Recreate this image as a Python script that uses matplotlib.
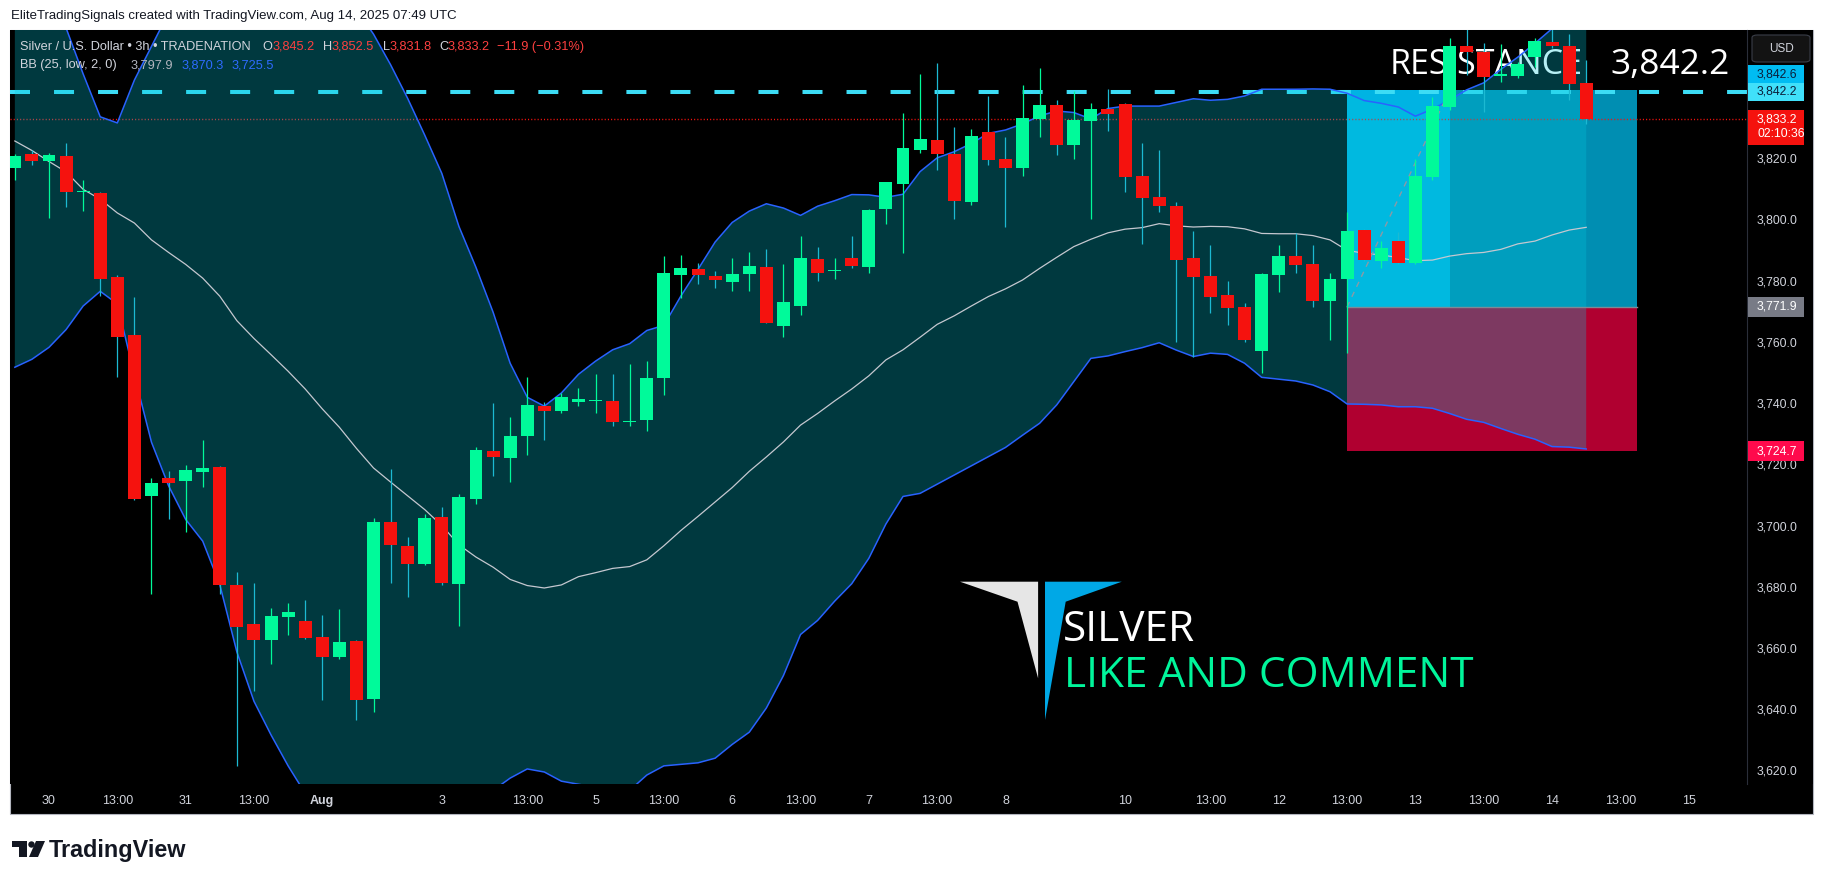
import matplotlib
matplotlib.use("Agg")
import matplotlib.pyplot as plt
from matplotlib.patches import Rectangle, Polygon, FancyBboxPatch, Circle
import numpy as np

plt.rcParams['lines.scale_dashes'] = False
plt.rcParams['font.family'] = ['Liberation Sans', 'DejaVu Sans']

W, H = 1826, 881

# ---------------- data ----------------
first_bar = -2
opens = [3817.4, 3821.7, 3819.4, 3821.2, 3809.3, 3809.0, 3781.7, 3762.8, 3710.2, 3716.0,
         3714.9, 3718.1, 3719.7, 3681.0, 3668.4, 3663.0, 3670.7, 3669.3, 3664.1, 3657.4,
         3662.8, 3644.0, 3701.7, 3693.8, 3687.8, 3703.3, 3681.5, 3709.2, 3724.8, 3722.6,
         3729.8, 3739.5, 3737.9, 3740.7, 3741.2, 3741.2, 3734.3, 3735.0, 3748.7, 3782.4,
         3784.3, 3782.0, 3780.2, 3782.8, 3785.0, 3765.8, 3772.2, 3787.5, 3783.6, 3787.9,
         3785.0, 3803.9, 3812.2, 3823.3, 3826.4, 3821.9, 3806.3, 3829.0, 3820.2, 3817.4,
         3833.3, 3837.9, 3824.9, 3832.7, 3836.4, 3838.2, 3814.7, 3807.8, 3804.9, 3787.9,
         3782.0, 3775.8, 3771.9, 3757.6, 3782.4, 3788.5, 3785.9, 3773.9, 3781.0, 3797.0,
         3787.0, 3793.4, 3786.4, 3814.4, 3837.3, 3857.0, 3855.3, 3847.4, 3847.4, 3853.6,
         3858.3, 3857.1, 3845.2]
highs = [3821.9, 3823.2, 3822.2, 3825.4, 3813.4, 3809.4, 3782.2, 3775.2, 3716.0, 3718.4,
         3720.3, 3728.3, 3720.0, 3685.3, 3681.7, 3673.5, 3675.2, 3676.1, 3671.2, 3673.3,
         3663.2, 3702.9, 3719.0, 3696.9, 3704.4, 3706.4, 3710.9, 3726.2, 3740.6, 3735.9,
         3749.0, 3740.8, 3743.8, 3745.4, 3750.0, 3750.0, 3753.2, 3754.3, 3788.6, 3788.8,
         3786.2, 3783.5, 3787.9, 3789.9, 3790.8, 3785.9, 3795.1, 3791.5, 3787.9, 3795.1,
         3804.0, 3812.8, 3835.2, 3848.0, 3851.5, 3830.6, 3829.9, 3840.8, 3827.3, 3844.4,
         3849.9, 3839.5, 3842.3, 3838.5, 3843.1, 3838.6, 3825.3, 3823.2, 3806.3, 3796.7,
         3792.1, 3780.4, 3773.1, 3783.1, 3792.1, 3796.0, 3792.1, 3783.0, 3802.8, 3797.5,
         3793.4, 3796.5, 3820.1, 3840.5, 3859.8, 3864.0, 3858.0, 3857.7, 3852.0, 3859.8,
         3864.0, 3861.0, 3852.5]
lows = [3813.5, 3818.1, 3801.0, 3804.4, 3803.2, 3775.4, 3749.0, 3709.0, 3678.3, 3702.7,
        3698.5, 3713.2, 3678.3, 3622.0, 3646.6, 3655.3, 3664.8, 3663.5, 3643.6, 3657.0,
        3637.1, 3639.5, 3681.8, 3677.3, 3687.5, 3681.0, 3667.8, 3707.5, 3716.8, 3714.6,
        3723.5, 3728.4, 3737.1, 3739.5, 3737.2, 3733.0, 3733.0, 3731.5, 3743.2, 3774.8,
        3779.5, 3778.2, 3777.2, 3777.2, 3766.5, 3762.2, 3769.2, 3780.4, 3781.1, 3784.6,
        3783.1, 3799.1, 3789.6, 3822.3, 3816.7, 3800.7, 3805.3, 3818.4, 3798.1, 3814.7,
        3827.5, 3821.6, 3820.3, 3800.7, 3829.5, 3809.6, 3792.6, 3803.0, 3760.6, 3755.7,
        3770.0, 3766.0, 3760.4, 3750.4, 3776.9, 3783.1, 3772.0, 3761.2, 3756.9, 3786.8,
        3784.7, 3786.0, 3786.0, 3813.5, 3836.1, 3847.7, 3835.5, 3845.5, 3846.6, 3850.4,
        3856.4, 3839.5, 3831.8]
closes = [3821.2, 3819.7, 3821.6, 3809.3, 3809.6, 3781.1, 3762.2, 3709.3, 3714.4, 3714.5,
          3718.6, 3719.3, 3681.2, 3667.2, 3663.2, 3671.0, 3672.3, 3663.9, 3657.7, 3662.4,
          3643.6, 3701.7, 3694.0, 3687.8, 3703.0, 3681.6, 3709.8, 3725.2, 3723.0, 3729.8,
          3739.9, 3737.9, 3742.4, 3741.8, 3741.5, 3734.3, 3734.7, 3748.7, 3783.0, 3784.6,
          3782.2, 3780.6, 3782.7, 3785.2, 3766.8, 3773.5, 3787.9, 3783.1, 3784.0, 3785.4,
          3803.6, 3812.7, 3823.8, 3826.8, 3822.0, 3806.6, 3827.7, 3820.0, 3817.4, 3833.5,
          3837.9, 3824.9, 3833.0, 3836.4, 3835.0, 3814.4, 3807.6, 3805.0, 3787.2, 3781.8,
          3775.3, 3771.7, 3761.2, 3782.7, 3788.5, 3785.7, 3773.9, 3781.0, 3796.7, 3787.2,
          3791.1, 3786.4, 3814.7, 3837.5, 3857.1, 3855.3, 3847.1, 3847.9, 3851.1, 3858.8,
          3857.0, 3844.8, 3833.2]

bb_upper = [3885.0, 3882.0, 3876.0, 3863.0, 3848.0, 3834.0, 3832.0, 3846.0, 3857.0, 3868.0,
            3876.0, 3881.0, 3885.0, 3888.0, 3890.0, 3890.0, 3889.0, 3886.0, 3882.0, 3876.0,
            3869.0, 3861.0, 3851.0, 3840.0, 3828.0, 3815.5, 3798.2, 3784.8, 3770.2, 3753.5,
            3742.4, 3739.5, 3743.8, 3749.9, 3754.2, 3757.9, 3759.9, 3764.2, 3765.9, 3775.5,
            3784.2, 3793.1, 3799.5, 3803.2, 3805.6, 3804.2, 3801.8, 3804.8, 3806.6, 3808.6,
            3808.5, 3807.7, 3808.7, 3816.1, 3820.6, 3822.6, 3825.3, 3828.6, 3829.7, 3831.7,
            3834.3, 3835.9, 3835.4, 3833.3, 3836.7, 3837.5, 3837.5, 3837.5, 3838.7, 3839.9,
            3839.4, 3839.7, 3840.8, 3843.0, 3843.0, 3843.0, 3843.1, 3843.0, 3841.7, 3839.3,
            3838.4, 3837.2, 3834.2, 3836.5, 3839.5, 3842.8, 3845.1, 3849.5, 3853.5, 3858.0,
            3862.8, 3866.5, 3870.3]
bb_basis = [3826.1, 3823.0, 3819.4, 3816.0, 3810.3, 3807.1, 3802.6, 3799.3, 3793.8, 3789.7,
            3785.8, 3781.3, 3775.4, 3767.4, 3761.6, 3756.3, 3750.9, 3745.1, 3738.6, 3732.6,
            3725.7, 3719.3, 3714.7, 3710.2, 3705.7, 3700.5, 3694.2, 3690.2, 3686.9, 3682.9,
            3680.9, 3680.1, 3681.1, 3683.8, 3685.1, 3686.5, 3687.1, 3689.3, 3693.9, 3698.9,
            3703.5, 3708.2, 3712.9, 3718.2, 3722.9, 3727.8, 3733.3, 3737.1, 3741.2, 3745.1,
            3749.4, 3754.6, 3757.9, 3762.0, 3766.2, 3769.0, 3772.2, 3775.3, 3777.8, 3780.7,
            3784.5, 3788.1, 3791.6, 3794.0, 3796.1, 3797.3, 3797.8, 3799.1, 3798.4, 3798.0,
            3798.2, 3798.1, 3797.4, 3795.9, 3795.8, 3795.8, 3795.2, 3793.8, 3790.4, 3789.4,
            3788.9, 3788.0, 3787.0, 3787.2, 3788.5, 3789.3, 3789.7, 3790.7, 3792.5, 3793.4,
            3795.4, 3797.0, 3797.9]
bb_lower = [3752.2, 3754.8, 3758.7, 3764.5, 3772.2, 3777.0, 3772.9, 3749.6, 3727.7, 3713.5,
            3702.5, 3695.4, 3681.2, 3659.2, 3643.1, 3632.1, 3622.0, 3613.0, 3607.0, 3603.0,
            3598.0, 3600.0, 3603.0, 3605.0, 3606.0, 3608.0, 3609.0, 3611.0, 3614.0, 3618.0,
            3621.0, 3620.0, 3617.0, 3616.0, 3615.0, 3614.0, 3614.0, 3619.0, 3622.0, 3622.5,
            3623.0, 3624.5, 3629.0, 3633.0, 3640.9, 3651.5, 3664.9, 3669.5, 3675.8, 3681.5,
            3689.8, 3701.0, 3710.0, 3711.0, 3714.0, 3717.0, 3720.0, 3723.0, 3726.0, 3730.0,
            3733.9, 3739.9, 3747.5, 3755.1, 3755.9, 3757.3, 3758.6, 3760.2, 3757.8, 3755.7,
            3756.8, 3756.4, 3753.5, 3748.9, 3748.3, 3747.7, 3746.4, 3744.2, 3740.2, 3740.1,
            3739.9, 3739.3, 3739.3, 3738.8, 3737.1, 3735.2, 3734.2, 3732.2, 3730.3, 3728.7,
            3726.3, 3726.1, 3725.5]

time_tick_bars = [0, 4, 8, 12, 16, 23, 28, 32, 36, 40, 44, 48, 52, 56, 63, 68, 72, 76, 80, 84, 88, 92, 96]
time_tick_labels = ['30', '13:00', '31', '13:00', 'Aug', '3', '13:00', '5', '13:00', '6', '13:00',
                    '7', '13:00', '8', '10', '13:00', '12', '13:00', '13', '13:00', '14', '13:00', '15']
price_ticks = [3620, 3640, 3660, 3680, 3700, 3720, 3740, 3760, 3780, 3800, 3820]

resistance_price = 3842.2
last_close = 3833.2
countdown = '02:10:36'
entry_price = 3771.9
target_price = 3842.6
stop_price = 3724.7
pos_start_bar, pos_hit_bar, pos_end_bar = 76, 82, 93

bars = np.arange(first_bar, first_bar + len(opens))
o = np.array(opens); h = np.array(highs); l = np.array(lows); c = np.array(closes)
up_b = np.array(bb_upper); mid_b = np.array(bb_basis); lo_b = np.array(bb_lower)

# ---------------- figure ----------------
fig = plt.figure(figsize=(W / 100, H / 100), dpi=100, facecolor='white')

def fx(px):
    return px / W

def fy(py):
    return 1 - py / H

# chart background
fig.patches.append(Rectangle((fx(10), fy(814)), (1813 - 10) / W, (814 - 30) / H,
                             transform=fig.transFigure, fc='black', ec='#B2B5BE', lw=0.8, zorder=-5))

ax = fig.add_axes([fx(10), fy(784), (1747 - 10) / W, (784 - 30) / H])
ax.set_facecolor('black')
pax = fig.add_axes([fx(1747), fy(784), (1813 - 1747) / W, (784 - 30) / H], sharey=ax)
pax.set_facecolor('black')

x_left = (10 - 49) / 17.08
x_right = (1747 - 49) / 17.08
ax.set_xlim(x_left, x_right)
ax.set_ylim(3616.08, 3862.35)
for sp in ax.spines.values():
    sp.set_visible(False)
for sp in pax.spines.values():
    sp.set_visible(False)
pax.spines['left'].set_visible(True)
pax.spines['left'].set_color('#2A2E39')
pax.set_xlim(0, 66)
pax.tick_params(left=False, labelleft=False, bottom=False, labelbottom=False)

# x ticks (time axis)
ax.set_xticks(time_tick_bars)
ax.set_xticklabels(time_tick_labels)
ax.tick_params(axis='x', length=0, pad=8, labelsize=9, labelcolor='#D1D4DC')
ax.tick_params(axis='y', left=False, labelleft=False)
for t in ax.get_xticklabels():
    if t.get_text() == 'Aug':
        t.set_fontweight('bold')

# position tool (long)
profit_col = (0 / 255, 142 / 255, 178 / 255)
hit_col = (0 / 255, 179 / 255, 227 / 255)
stop_col = (176 / 255, 0 / 255, 48 / 255)
ax.add_patch(Rectangle((pos_start_bar, entry_price), pos_end_bar - pos_start_bar,
                       target_price - entry_price, fc=profit_col, ec='none', zorder=1))
ax.add_patch(Rectangle((pos_start_bar, entry_price), pos_hit_bar - pos_start_bar,
                       target_price - entry_price, fc=hit_col, ec='none', zorder=1.05))
ax.add_patch(Rectangle((pos_start_bar, stop_price), pos_end_bar - pos_start_bar,
                       entry_price - stop_price, fc=stop_col, ec='none', zorder=1))

# resistance line + last price line
ax.axhline(resistance_price, color='#3CDCF5', lw=2.9, linestyle=(0, (14.4, 17.3)),
           solid_capstyle='butt', dash_capstyle='butt', zorder=1.5)
ax.axhline(last_close, color='#F5120E', lw=1.0, linestyle=(0, (0.8, 1.5)), zorder=1.5)

def pane_xy(px, py):
    # full pixel coords -> axes fraction of the pane
    return ((px - 10) / (1747 - 10), (784 - py) / (784 - 30))

ax.text(*pane_xy(1583, 74.3), 'RESISTANCE', transform=ax.transAxes, color='white', fontsize=24.5,
        family='Open Sans', ha='right', va='baseline', zorder=1.5)
ax.text(*pane_xy(1730, 74.3), f"{resistance_price:,.1f}", transform=ax.transAxes, color='white',
        fontsize=25.5, family='Open Sans', ha='right', va='baseline', zorder=1.5)

# Bollinger bands
ax.fill_between(bars, lo_b, up_b, color=(3 / 255, 200 / 255, 220 / 255), alpha=0.29, lw=0, zorder=2)
ax.plot(bars, up_b, color='#2962FF', lw=1.1, zorder=3)
ax.plot(bars, lo_b, color='#2962FF', lw=1.1, zorder=3)
ax.plot(bars, mid_b, color='#C5C8D0', lw=0.9, zorder=3)

# entry line and trade path
ax.plot([pos_start_bar, pos_end_bar], [entry_price, entry_price], color='#7E8A96', lw=1.0, zorder=3.5)
ax.plot([pos_start_bar, pos_hit_bar], [entry_price, target_price], color='#8A9AA6', lw=1.0,
        linestyle=(0, (4, 4)), zorder=3.5)

# candles
green = '#00FA9A'
red = '#F5120E'
wick_red = '#1CB9D2'
is_up = c >= o
body_lo = np.minimum(o, c)
body_h = np.maximum(np.abs(c - o), 0.45)
ax.vlines(bars[is_up], l[is_up], h[is_up], color=green, lw=0.9, zorder=4)
ax.vlines(bars[~is_up], l[~is_up], h[~is_up], color=wick_red, lw=0.9, zorder=4)
ax.bar(bars[is_up], body_h[is_up], bottom=body_lo[is_up], width=0.76, color=green, lw=0, zorder=4.5)
ax.bar(bars[~is_up], body_h[~is_up], bottom=body_lo[~is_up], width=0.76, color=red, lw=0, zorder=4.5)

# price axis labels
for v in price_ticks:
    pax.text(10, v, f"{v:,.1f}", color='#D1D4DC', fontsize=8.8, va='center', ha='left', zorder=2)

ppu = 754 / (3862.35 - 3616.08)  # pixels per price unit

def price_box(price, text, bg, fg, off_px=0.0, height_px=18, text2=None):
    yc = price + off_px / ppu
    hh = height_px / 2 / ppu
    if text2 is None:
        pax.add_patch(Rectangle((1, yc - hh), 56, 2 * hh, fc=bg, ec='none', zorder=5))
        pax.text(10, yc, text, color=fg, fontsize=8.8, va='center', ha='left', zorder=6)
    else:
        pax.add_patch(Rectangle((1, yc - hh - 2 * hh * 0.95), 56, 2 * hh * 1.95, fc=bg, ec='none', zorder=5))
        pax.text(10, yc, text, color=fg, fontsize=8.8, va='center', ha='left', zorder=6)
        pax.text(10, yc - 15 / ppu, text2, color=fg, fontsize=8.8, va='center', ha='left', zorder=6)

price_box(target_price, f"{target_price:,.1f}", '#00BCF2', '#0B1E3A',
          off_px=17.4 - (target_price - resistance_price) * ppu)
price_box(resistance_price, f"{resistance_price:,.1f}", '#40E0FA', '#0B1E3A')
price_box(last_close, f"{last_close:,.1f}", '#F5120E', 'white', text2=countdown)
price_box(entry_price, f"{entry_price:,.1f}", '#787B86', 'white', height_px=20)
price_box(stop_price, f"{stop_price:,.1f}", '#FF0A4C', 'white', height_px=20)

# USD box
fig.patches.append(FancyBboxPatch((fx(1752), fy(62)), (1810 - 1752) / W, (62 - 35) / H,
                                  boxstyle='round,pad=0,rounding_size=0.003',
                                  transform=fig.transFigure, fc='#131313', ec='#3A3E48', lw=0.8, zorder=6))
fig.text(fx(1781), fy(48.5), 'USD', color='#D1D4DC', fontsize=8.5, ha='center', va='center', zorder=7)

# header texts
fig.text(fx(11), fy(16), 'EliteTradingSignals created with TradingView.com, Aug 14, 2025 07:49 UTC',
         color='#131722', fontsize=9.5, ha='left', va='center')

leg_gray = '#D1D4DC'
leg_red = '#FF4040'
leg_blue = '#2E6BFF'
y1 = fy(46.7)
y2 = fy(65)
pieces1 = [(19.8, 'Silver / U.S. Dollar \u2022 3h \u2022 TRADENATION', leg_gray),
           (262.5, 'O', leg_gray), (273, '3,845.2', leg_red),
           (322.5, 'H', leg_gray), (332, '3,852.5', leg_red),
           (382.5, 'L', leg_gray), (389.5, '3,831.8', leg_red),
           (439, 'C', leg_gray), (448, '3,833.2', leg_red),
           (497.4, '\u221211.9 (\u22120.31%)', leg_red)]
for px, s, col in pieces1:
    fig.text(fx(px), y1, s, color=col, fontsize=9.2, ha='left', va='center', zorder=7)
pieces2 = [(19.8, 'BB (25, low, 2, 0)', leg_gray), (130.5, '3,797.9', '#B2B5BE'),
           (182, '3,870.3', leg_blue), (231.3, '3,725.5', leg_blue)]
for px, s, col in pieces2:
    fig.text(fx(px), y2, s, color=col, fontsize=9.2, ha='left', va='center', zorder=7)

# logo
logo_ax = fig.add_axes([0, 0, 1, 1], facecolor='none')
logo_ax.set_xlim(0, W)
logo_ax.set_ylim(H, 0)
logo_ax.axis('off')
logo_ax.add_patch(Polygon([(960, 581.7), (1038.1, 581.7), (1038.1, 678.3), (1017.5, 601.7)],
                          closed=True, fc='#E6E6E6', ec='none'))
logo_ax.add_patch(Polygon([(1045, 581.7), (1121.8, 581.7), (1065.7, 601.7), (1045, 720)],
                          closed=True, fc='#00A8E6', ec='none'))
logo_ax.text(1063, 640.7, 'SILVER', color='white', fontsize=30.5, family='Open Sans',
             ha='left', va='baseline')
logo_ax.text(1064, 687.3, 'LIKE AND COMMENT', color='#00F59B', fontsize=30.5, family='Open Sans',
             ha='left', va='baseline')

# TradingView footer
logo_ax.add_patch(Rectangle((12, 841), 15, 6, fc='#131722', ec='none'))
logo_ax.add_patch(Rectangle((19, 841), 8, 16, fc='#131722', ec='none'))
logo_ax.add_patch(Circle((31.5, 844.5), 3.2, fc='#131722', ec='none'))
logo_ax.add_patch(Polygon([(36, 841), (45, 841), (38, 857), (29, 857)], closed=True, fc='#131722', ec='none'))
logo_ax.text(49, 857, 'TradingView', color='#131722', fontsize=16.8, fontweight='bold',
             ha='left', va='baseline')

fig.savefig('out.png', dpi=100, facecolor='white')
